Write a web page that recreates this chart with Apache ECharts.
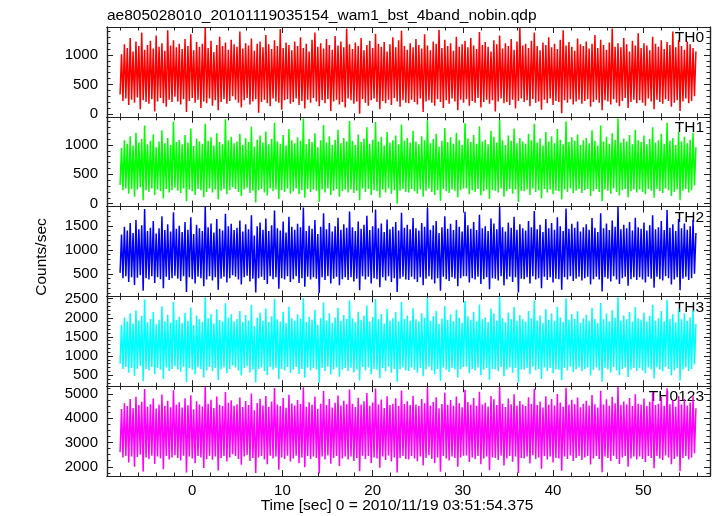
<!DOCTYPE html>
<html><head><meta charset="utf-8">
<script src="https://cdn.jsdelivr.net/npm/echarts@6/dist/echarts.min.js"></script>
<style>html,body{margin:0;padding:0;background:#fff}#c{width:717px;height:516px}</style>
</head><body><div id="c"></div>
<script>
const titleText = 'ae805028010_20101119035154_wam1_bst_4band_nobin.qdp';
const xTitle = 'Time [sec] 0 = 2010/11/19 03:51:54.375';
const yTitle = 'Counts/sec';
const bandNames = ['TH0', 'TH1', 'TH2', 'TH3', 'TH0123'];
const bandColors = ['#ff0000', '#00ff00', '#0000ff', '#00ffff', '#ff00ff'];
const timeStart = -8, binWidth = 0.32;
const xMin = -9.45, xMax = 57.4;
const xMajorTicks = [0, 10, 20, 30, 40, 50];
const xMinorTicks = [-8, -6, -4, -2, 0, 2, 4, 6, 8, 10, 12, 14, 16, 18, 20, 22, 24, 26, 28, 30, 32, 34, 36, 38, 40, 42, 44, 46, 48, 50, 52, 54, 56];
const yMins = [-50, -50, 30, 210, 1620];
const yMaxs = [1475, 1480, 1900, 2560, 5320];
const yLabelTicks = [[0, 500, 1000], [0, 500, 1000], [500, 1000, 1500], [500, 1000, 1500, 2000, 2500], [2000, 3000, 4000, 5000]];
const yMinorStart = [0, 0, 100, 300, 1750];
const yMinorStep = [100, 100, 100, 100, 250];

// per-bin high and low envelope values (counts/sec)
const th0Hi = [1010,1180,1120,1290,1060,1230,1150,1380,1090,1170,1240,1110,1330,1140,1200,1070,1420,1160,1250,1130,
1190,1100,1270,1150,1350,1080,1220,1140,1190,1460,1120,1240,1050,1170,1310,1150,1210,1090,1260,1180,
1140,1400,1110,1200,1160,1280,1070,1190,1230,1130,1340,1180,1100,1250,1150,1440,1120,1210,1170,1080,
1230,1150,1300,1120,1190,1060,1260,1380,1140,1200,1110,1270,1170,1090,1320,1160,1230,1130,1450,1180,
1100,1210,1150,1290,1080,1170,1240,1120,1360,1190,1140,1220,1060,1180,1300,1130,1250,1410,1150,1090,
1200,1130,1270,1170,1110,1350,1160,1080,1230,1190,1430,1120,1260,1150,1200,1070,1310,1140,1180,1240,
1130,1290,1160,1100,1390,1170,1220,1140,1060,1250,1180,1330,1110,1200,1150,1270,1090,1230,1460,1160,
1190,1120,1240,1380,1150,1080,1210,1170,1300,1130,1190,1100,1260,1420,1160,1220,1140,1070,1280,1180,
1150,1230,1110,1190,1340,1120,1260,1170,1090,1210,1450,1140,1200,1130,1290,1180,1060,1240,1160,1370,
1120,1200,1160,1080,1310,1190,1140,1250,1100,1220,1170,1400,1130,1260,1150,1090,1230,1180,1120,1060];
const th0Lo = [330,220,260,150,240,190,280,80,230,200,170,250,40,210,270,180,120,240,200,290,
210,160,250,30,220,270,190,240,100,210,180,260,140,230,60,200,250,170,220,300,
240,190,110,230,270,160,210,250,20,200,240,180,130,260,210,190,70,230,250,170,
200,260,150,220,90,240,190,270,210,130,230,180,250,50,210,240,160,200,110,260,
230,170,210,0,250,190,140,230,260,200,80,220,180,240,150,270,210,120,230,190,
180,240,200,160,260,30,210,230,190,140,250,200,100,230,170,260,210,60,240,190,
250,140,220,190,270,110,200,240,170,230,40,210,260,180,200,150,240,90,220,260,
200,230,130,250,190,210,70,240,180,260,150,220,200,10,230,190,250,160,210,240,
170,220,250,120,200,240,190,60,230,210,160,250,190,130,220,270,100,200,240,180,
230,190,140,260,210,80,240,200,170,250,220,120,190,230,50,210,260,180,220,300];
const th1Hi = [950,1080,1020,1150,990,1210,1040,1100,1330,1010,1070,1180,960,1060,1250,1030,1120,1000,1400,1050,
1090,1010,1170,1040,1280,980,1110,1060,1020,1360,1070,1130,990,1200,1050,1010,1440,1080,1140,1030,
1060,1190,1000,1120,1050,1310,970,1090,1160,1040,1230,1010,1100,1380,1060,1020,1170,990,1270,1080,
1030,1130,1070,1450,1010,1100,1050,1200,960,1080,1340,1040,1150,1000,1090,1260,1030,1120,1060,1410,
1070,1000,1180,1050,1110,1300,1020,1090,1390,1060,1140,990,1220,1040,1080,1160,1010,1350,1070,1120,
1040,1240,1060,1010,1150,1080,1420,1030,1100,1190,970,1070,1290,1050,1130,1020,1210,1080,1000,1370,
1110,1050,1170,1020,1320,1060,1090,1010,1240,1140,1040,1430,1080,1000,1160,1070,1280,1030,1120,1060,
1020,1190,1080,1360,1040,1110,990,1220,1060,1150,1030,1270,1090,1010,1400,1050,1130,1070,1180,1000,
1080,1120,1030,1250,1070,990,1330,1060,1140,1020,1200,1090,1450,1040,1110,1060,1170,1010,1260,1080,
1050,1160,1010,1100,1300,1040,1080,1190,1020,1380,1070,1120,1000,1230,1060,1140,1030,1090,1210,960];
const th1Lo = [320,230,260,170,250,120,240,280,60,230,200,260,150,240,210,90,250,190,230,270,
220,180,260,40,240,210,150,250,230,110,200,260,190,240,70,220,250,160,230,280,
250,200,130,240,270,180,220,20,230,250,190,140,260,210,240,80,230,200,260,170,
210,260,160,230,100,250,200,240,220,30,240,190,260,150,220,250,120,210,240,190,
240,180,220,60,260,200,250,150,230,210,100,240,190,260,170,230,0,220,250,200,
190,250,210,170,240,120,220,260,200,150,230,50,250,210,180,240,220,110,230,260,
260,160,230,200,250,140,210,240,80,230,220,190,260,120,210,250,170,240,30,220,
210,240,150,260,200,230,90,250,190,240,160,220,210,70,240,200,260,180,220,250,
180,230,250,130,210,250,200,40,240,220,170,260,200,140,230,250,110,210,240,190,
240,200,160,250,220,100,250,210,180,260,230,130,200,240,60,220,250,190,230,310];
const th2Hi = [1320,1480,1400,1560,1350,1620,1430,1510,1850,1390,1460,1600,1340,1450,1700,1410,1530,1380,1780,1440,
1500,1370,1580,1420,1680,1330,1520,1450,1390,1900,1470,1550,1360,1640,1440,1400,1750,1490,1540,1410,
1460,1610,1380,1530,1430,1720,1300,1490,1570,1420,1650,1390,1510,1820,1450,1400,1590,1360,1690,1480,
1420,1540,1470,1880,1390,1500,1440,1620,1330,1480,1760,1430,1560,1380,1490,1670,1420,1530,1460,1800,
1470,1390,1590,1440,1520,1710,1410,1490,1840,1450,1550,1370,1630,1430,1480,1580,1400,1770,1460,1520,
1430,1660,1450,1400,1560,1480,1870,1420,1510,1600,1350,1470,1700,1440,1540,1410,1620,1480,1380,1790,
1510,1440,1580,1410,1730,1450,1490,1390,1650,1550,1430,1890,1470,1380,1570,1460,1690,1420,1530,1450,
1400,1600,1470,1810,1430,1520,1370,1640,1450,1560,1420,1680,1490,1390,1860,1440,1540,1460,1590,1380,
1470,1530,1420,1660,1460,1370,1760,1450,1550,1410,1610,1480,1900,1430,1520,1450,1580,1400,1670,1470,
1440,1570,1400,1510,1720,1430,1470,1600,1410,1830,1460,1530,1390,1640,1450,1550,1420,1490,1620,1350];
const th2Lo = [520,410,450,330,430,270,420,470,150,410,380,450,310,430,390,200,440,370,410,460,
400,350,450,120,430,390,300,440,410,240,380,450,360,430,170,400,440,320,410,470,
440,380,280,430,460,340,400,110,410,440,370,290,450,390,430,190,410,380,450,330,
390,450,310,410,230,440,380,430,400,100,430,370,450,300,400,440,260,390,430,370,
430,340,400,160,450,380,440,300,410,390,220,430,360,450,330,410,120,400,440,380,
370,440,390,330,430,260,400,450,380,300,410,150,440,390,350,430,400,240,410,450,
450,320,410,380,440,290,390,430,180,410,400,360,450,260,390,440,330,430,110,400,
390,430,300,450,380,410,200,440,370,430,320,400,390,170,430,380,450,350,400,440,
360,410,440,280,390,440,380,130,430,400,340,450,380,290,410,440,250,390,430,370,
430,380,320,440,400,210,440,390,360,450,410,280,380,430,160,400,440,370,410,500];
const th3Hi = [1820,2010,1900,2120,1850,2200,1930,2050,2480,1880,1970,2150,1830,1950,2300,1910,2080,1870,2420,1940,
2030,1860,2130,1920,2270,1810,2060,1960,1890,2540,1990,2100,1850,2220,1940,1900,2380,2000,2090,1910,
1970,2180,1880,2070,1930,2340,1780,2000,2140,1920,2240,1890,2040,2500,1960,1900,2160,1860,2290,1990,
1920,2090,1980,2520,1890,2030,1950,2210,1820,1990,2400,1930,2120,1870,2010,2260,1920,2070,1970,2450,
1990,1880,2160,1950,2060,2320,1910,2020,2490,1960,2100,1850,2230,1930,1990,2150,1900,2410,1970,2060,
1930,2250,1960,1900,2120,2000,2530,1920,2040,2180,1840,1980,2310,1950,2090,1910,2210,2000,1870,2440,
2040,1950,2150,1910,2350,1960,2010,1890,2240,2110,1930,2550,1990,1880,2140,1970,2280,1920,2070,1960,
1900,2180,1990,2460,1930,2060,1860,2230,1950,2120,1920,2290,2010,1890,2510,1950,2100,1970,2170,1870,
1990,2080,1920,2260,1970,1860,2390,1960,2110,1910,2200,2000,2540,1930,2060,1960,2150,1900,2280,1990,
1950,2140,1900,2050,2340,1930,1990,2180,1910,2470,1970,2090,1880,2240,1960,2120,1920,2010,2200,1840];
const th3Lo = [800,660,710,560,690,480,670,740,340,660,620,710,530,690,640,400,700,610,660,730,
650,590,720,320,690,640,520,700,660,440,620,710,600,690,370,650,700,550,660,750,
700,620,490,690,730,570,650,310,660,700,610,500,710,640,690,390,660,620,710,560,
640,710,530,660,430,700,620,690,650,300,690,610,720,520,650,700,460,640,690,610,
690,570,650,360,710,620,700,520,660,640,420,690,600,720,560,660,330,650,700,620,
610,700,640,560,690,470,650,720,620,520,660,350,700,640,580,690,650,440,660,710,
720,550,660,620,700,500,640,690,380,660,650,600,710,470,640,700,560,690,310,650,
640,690,520,720,620,660,400,700,610,690,550,650,640,370,690,620,720,580,650,700,
600,660,700,490,640,700,620,330,690,650,570,710,620,500,660,700,450,640,690,610,
690,620,550,700,650,410,700,640,600,720,660,490,620,690,360,650,700,610,660,780];
const th0123Hi = [4380,4620,4500,4790,4420,4880,4540,4680,5200,4470,4580,4810,4400,4560,4980,4510,4720,4450,5150,4550,
4660,4440,4820,4530,4950,4370,4700,4570,4480,5300,4600,4760,4420,4900,4550,4500,5080,4640,4740,4510,
4580,4850,4460,4710,4540,5020,4330,4630,4800,4520,4920,4470,4690,5250,4570,4500,4830,4430,4970,4610,
4520,4750,4590,5280,4470,4660,4560,4890,4390,4600,5120,4540,4790,4440,4640,4940,4520,4720,4580,5180,
4600,4460,4840,4560,4700,5040,4510,4650,5220,4570,4770,4420,4910,4540,4600,4820,4500,5140,4590,4700,
4540,4930,4570,4500,4790,4620,5270,4520,4670,4860,4410,4590,5060,4560,4750,4510,4890,4620,4450,5170,
4670,4560,4830,4510,5090,4570,4640,4480,4920,4780,4540,5290,4600,4460,4810,4580,4990,4520,4710,4570,
4500,4860,4600,5210,4540,4690,4440,4910,4560,4790,4520,5000,4650,4470,5260,4560,4760,4580,4850,4450,
4600,4720,4520,4960,4580,4440,5130,4570,4780,4510,4880,4620,5300,4540,4690,4570,4830,4500,4990,4600,
4560,4810,4500,4680,5070,4540,4600,4870,4510,5230,4580,4740,4470,4920,4570,4790,4520,4650,4900,4410];
const th0123Lo = [2600,2380,2450,2180,2420,2000,2400,2500,1800,2380,2320,2460,2120,2420,2350,1900,2440,2300,2380,2480,
2360,2260,2460,1760,2420,2340,2150,2440,2380,1950,2310,2450,2290,2420,1850,2360,2440,2220,2380,2520,
2440,2320,2080,2420,2490,2240,2360,1740,2380,2440,2300,2100,2460,2340,2420,1880,2380,2320,2460,2220,
2340,2460,2150,2380,1980,2440,2320,2420,2360,1720,2420,2300,2470,2130,2360,2440,2030,2340,2420,2300,
2420,2240,2360,1820,2460,2320,2440,2150,2380,2340,1960,2420,2280,2470,2220,2380,1760,2360,2440,2320,
2300,2440,2340,2230,2420,2050,2360,2480,2320,2150,2380,1800,2440,2340,2260,2420,2360,2000,2380,2460,
2470,2200,2380,2320,2440,2100,2340,2420,1860,2380,2360,2280,2460,2050,2340,2440,2210,2420,1740,2360,
2340,2420,2140,2480,2320,2380,1920,2440,2300,2420,2180,2360,2340,1840,2420,2320,2470,2240,2360,2440,
2280,2380,2440,2090,2340,2440,2320,1780,2420,2360,2240,2460,2320,2120,2380,2440,2000,2340,2420,2300,
2420,2320,2200,2440,2360,1940,2440,2340,2280,2470,2380,2100,2320,2420,1820,2360,2440,2300,2380,2560];

const bandHi = [th0Hi, th1Hi, th2Hi, th3Hi, th0123Hi];
const bandLo = [th0Lo, th1Lo, th2Lo, th3Lo, th0123Lo];

function trace(lo, hi) {
  const pts = [];
  const n = Math.min(lo.length, hi.length);
  for (let i = 0; i < n; i++) {
    const t = timeStart + i * binWidth;
    pts.push([t, lo[i]]);
    pts.push([t + binWidth / 2, hi[i]]);
  }
  return pts;
}

const FONT = '"Liberation Sans", Arial, sans-serif';
const AX = '#222';
const gridTop = 27, gridH = 89.8;
const grids = [], xAxes = [], yAxes = [], series = [], graphics = [];

function minorList(i) {
  const arr = [];
  for (let v = yMinorStart[i]; v <= yMaxs[i]; v += yMinorStep[i]) arr.push(v);
  return arr;
}
const plain = v => String(Math.round(v));

for (let i = 0; i < 5; i++) {
  const top = gridTop + i * gridH;
  grids.push({ left: 107, right: 7, top: top, height: gridH, outerBoundsMode: 'none', containLabel: false });
  const isLast = i === 4;
  const mkX = (pos, major, showLabel) => ({
    type: 'value', gridIndex: i, position: pos, min: xMin, max: xMax,
    axisLine: { show: true, onZero: false, lineStyle: { color: AX, width: 1.2 } },
    axisTick: { show: true, inside: true, length: major ? 6 : 3.5, customValues: major ? xMajorTicks : xMinorTicks, lineStyle: { color: AX, width: 1 } },
    axisLabel: { show: showLabel, customValues: xMajorTicks, formatter: plain, fontSize: 15, fontFamily: FONT, color: '#000', margin: 7 },
    splitLine: { show: false }
  });
  xAxes.push(mkX('bottom', true, isLast));
  xAxes.push(mkX('top', true, false));
  xAxes.push(mkX('bottom', false, false));
  xAxes.push(mkX('top', false, false));
  const mkY = (pos, major, showLabel) => ({
    type: 'value', gridIndex: i, position: pos, min: yMins[i], max: yMaxs[i],
    axisLine: { show: true, onZero: false, lineStyle: { color: AX, width: 1.2 } },
    axisTick: { show: true, inside: true, length: major ? 6 : 3.5, customValues: major ? yLabelTicks[i] : minorList(i), lineStyle: { color: AX, width: 1 } },
    axisLabel: { show: showLabel, customValues: yLabelTicks[i], formatter: plain, fontSize: 15, fontFamily: FONT, color: '#000', margin: 9 },
    splitLine: { show: false }
  });
  yAxes.push(mkY('left', true, true));
  yAxes.push(mkY('right', true, false));
  yAxes.push(mkY('left', false, false));
  yAxes.push(mkY('right', false, false));
  series.push({
    type: 'line', name: bandNames[i], xAxisIndex: 4 * i, yAxisIndex: 4 * i,
    data: trace(bandLo[i], bandHi[i]),
    showSymbol: false, symbol: 'none', silent: true, animation: false,
    lineStyle: { color: bandColors[i], width: 1.5, join: 'bevel' },
    emphasis: { disabled: true }, clip: true
  });
  graphics.push({
    type: 'text', x: 704, y: top + 3, silent: true,
    style: { text: bandNames[i], font: '15.5px ' + FONT, fill: '#000', align: 'right', verticalAlign: 'top', textAlign: 'right', textVerticalAlign: 'top' }
  });
}

graphics.push({ type: 'text', x: 107, y: 16, silent: true,
  style: { text: titleText, font: '15.5px ' + FONT, fill: '#000', align: 'left', verticalAlign: 'middle', textAlign: 'left', textVerticalAlign: 'middle' } });
graphics.push({ type: 'text', x: 397, y: 506, silent: true,
  style: { text: xTitle, font: '15.5px ' + FONT, fill: '#000', align: 'center', verticalAlign: 'middle', textAlign: 'center', textVerticalAlign: 'middle' } });
graphics.push({ type: 'text', x: 42, y: 257, rotation: Math.PI / 2, silent: true,
  style: { text: yTitle, font: '15.5px ' + FONT, fill: '#000', align: 'center', verticalAlign: 'middle', textAlign: 'center', textVerticalAlign: 'middle' } });

const chart = echarts.init(document.getElementById('c'), null, { renderer: 'canvas' });
chart.setOption({
  backgroundColor: '#fff',
  animation: false,
  grid: grids,
  xAxis: xAxes,
  yAxis: yAxes,
  series: series,
  graphic: graphics
});
</script>
</body></html>
